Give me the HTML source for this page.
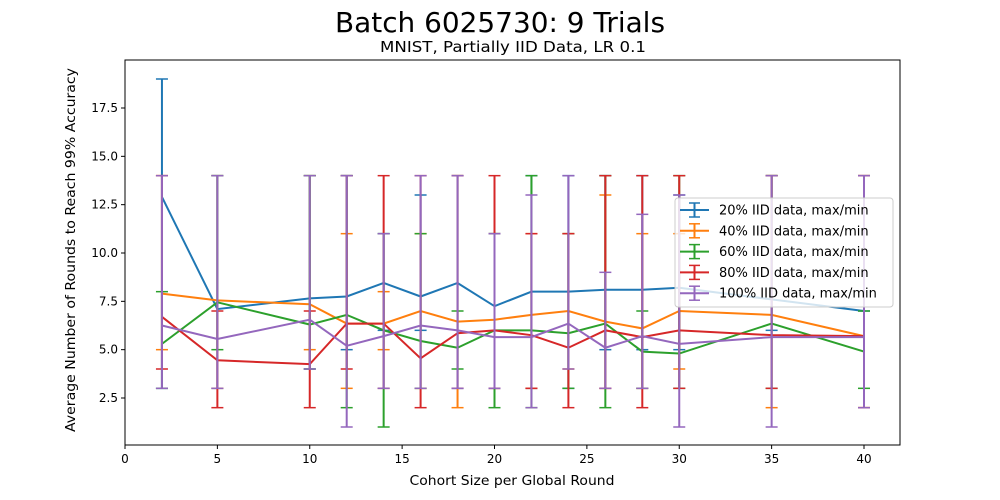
<!DOCTYPE html>
<html><head><meta charset="utf-8"><style>
body{margin:0;background:#fff;}
svg{display:block;font-family:"DejaVu Sans","Liberation Sans",sans-serif;}
</style></head><body>
<svg id="chart" width="1000" height="500" xmlns="http://www.w3.org/2000/svg">
<rect width="1000" height="500" fill="#fff"/>
<text x="500" y="32" text-anchor="middle" font-size="27.5" textLength="330" lengthAdjust="spacingAndGlyphs">Batch 6025730: 9 Trials</text>
<text x="513" y="52" text-anchor="middle" font-size="15.5" textLength="266" lengthAdjust="spacingAndGlyphs">MNIST, Partially IID Data, LR 0.1</text>
<g id="plot"></g>
<text x="512" y="485" text-anchor="middle" font-size="13.5" textLength="205" lengthAdjust="spacingAndGlyphs">Cohort Size per Global Round</text>
<text transform="translate(75,250) rotate(-90)" text-anchor="middle" font-size="13.5" textLength="364" lengthAdjust="spacingAndGlyphs">Average Number of Rounds to Reach 99% Accuracy</text>
</svg>
<script>
const xs=[2,5,10,12,14,16,18,20,22,24,26,28,30,35,40];
const names=["20% IID data, max/min","40% IID data, max/min","60% IID data, max/min","80% IID data, max/min","100% IID data, max/min"];
const colors=["#1f77b4","#ff7f0e","#2ca02c","#d62728","#9467bd"];
const mean20=[12.9,7.1,7.65,7.75,8.45,7.75,8.45,7.25,8.0,8.0,8.1,8.1,8.2,7.6,7.0];
const max20=[19,14,14,14,11,13,14,11,14,14,14,14,13,14,14];
const min20=[3,3,4,5,6,6,3,3,3,3,5,5,5,6,7];
const mean40=[7.9,7.55,7.35,6.35,6.35,7.0,6.45,6.55,6.8,7.0,6.45,6.1,7.0,6.8,5.7];
const max40=[14,14,14,11,8,11,14,11,11,11,13,11,11,14,14];
const min40=[5,3,5,3,5,3,2,3,3,4,3,3,4,2,2];
const mean60=[5.3,7.45,6.3,6.8,6.0,5.45,5.1,6.0,6.0,5.85,6.35,4.9,4.8,6.35,4.9];
const max60=[8,14,14,14,11,11,7,11,14,11,14,7,14,14,7];
const min60=[3,5,4,2,1,3,4,2,2,3,2,3,3,3,3];
const mean80=[6.7,4.45,4.25,6.35,6.35,4.55,5.85,6.0,5.75,5.1,6.0,5.65,6.0,5.75,5.7];
const max80=[14,7,7,14,14,14,14,14,11,11,14,14,14,14,14];
const min80=[4,2,2,4,3,2,3,3,3,2,3,2,3,3,2];
const mean100=[6.25,5.55,6.55,5.2,5.7,6.25,6.0,5.65,5.65,6.35,5.1,5.7,5.3,5.65,5.65];
const max100=[14,14,14,14,11,14,14,11,13,14,9,12,13,14,14];
const min100=[3,3,4,1,3,3,3,3,2,4,3,3,1,1,2];
const xTicks=[0,5,10,15,20,25,30,35,40];
const yTicks=[2.5,5.0,7.5,10.0,12.5,15.0,17.5];
const means=[mean20,mean40,mean60,mean80,mean100],maxs=[max20,max40,max60,max80,max100],mins=[min20,min40,min60,min80,min100];
const L=125,R=900,T=60,B=445;
const X=v=>L+v*(864-L)/40;
const Y=v=>398-(v-2.5)*(398-108)/15;
const NS="http://www.w3.org/2000/svg";
const g=document.getElementById('plot');
function mk(t,a,p){const e=document.createElementNS(NS,t);for(const k in a)e.setAttribute(k,a[k]);(p||g).appendChild(e);return e;}
xTicks.forEach(t=>{const l=mk('line',{x1:X(t),x2:X(t),y1:B,y2:B+4,stroke:'#000'});


const tx=mk('text',{x:X(t),y:B+18,'text-anchor':'middle','font-size':12});tx.textContent=t;

});
yTicks.forEach(t=>{const l=mk('line',{x1:L-4,x2:L,y1:Y(t),y2:Y(t),stroke:'#000'});


const tx=mk('text',{x:L-7,y:Y(t)+4,'text-anchor':'end','font-size':12});tx.textContent=t.toFixed(1);

});
for(let s=0;s<5;s++){
 const sg=mk('g',{});
 
 
 const c=colors[s];
 xs.forEach((x,i)=>{
  const e=mk('line',{x1:X(x),x2:X(x),y1:Y(maxs[s][i]),y2:Y(mins[s][i]),stroke:c,'stroke-width':2},sg);
  
  
  [maxs[s][i],mins[s][i]].forEach(v=>{const cp=mk('line',{x1:X(x)-6,x2:X(x)+6,y1:Y(v),y2:Y(v),stroke:c,'stroke-width':1.5},sg);
   
   });
 });
 const p=mk('polyline',{points:xs.map((x,i)=>X(x)+','+Y(means[s][i])).join(' '),fill:'none',stroke:c,'stroke-width':2},sg);
 
 
}
const fr=mk('rect',{x:L,y:T,width:R-L,height:B-T,fill:'none',stroke:'#000','stroke-width':1});


const lg=mk('g',{});


mk('rect',{x:675,y:198,width:218,height:109,rx:3,fill:'#fff','fill-opacity':0.8,stroke:'#ccc'},lg);
names.forEach((n,i)=>{const y=210+i*20.8;
 const it=mk('g',{},lg);
 
 
 mk('line',{x1:680,x2:709,y1:y,y2:y,stroke:colors[i],'stroke-width':2},it);
 mk('line',{x1:694.5,x2:694.5,y1:y-7,y2:y+7,stroke:colors[i],'stroke-width':2},it);
 mk('line',{x1:689,x2:700,y1:y-7,y2:y-7,stroke:colors[i],'stroke-width':1.5},it);
 mk('line',{x1:689,x2:700,y1:y+7,y2:y+7,stroke:colors[i],'stroke-width':1.5},it);
 const t=mk('text',{x:719,y:y+4.5,'font-size':13},it);t.textContent=n;});
</script>
</body></html>
